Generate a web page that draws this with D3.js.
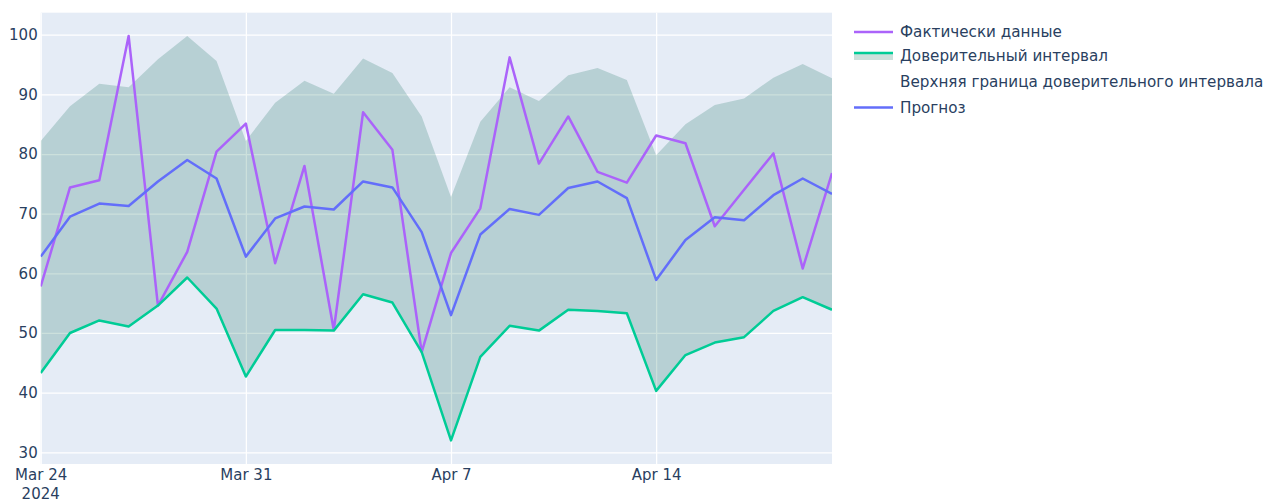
<!DOCTYPE html>
<html>
<head>
<meta charset="utf-8">
<script src="https://cdn.jsdelivr.net/npm/d3@7"></script>
<style>
  body { margin: 0; background: #fff; }
  svg { display: block; font-family: "DejaVu Sans", Verdana, sans-serif; }
</style>
</head>
<body>
<svg id="chart" width="1266" height="502"></svg>
<script>
// values, one per day from Mar 24 2024
let startDate = "2024-03-24"
let actual = [57.8, 74.4, 75.6, 99.8, 54.6, 63.6, 80.4, 85.1, 61.7, 78.0, 50.5, 87.0, 80.7, 46.8,
              63.4, 70.9, 96.2, 78.4, 86.3, 77.0, 75.2, 83.1, 81.8, 67.9, 74.0, 80.1, 60.8, 76.8]
let forecast = [62.8, 69.5, 71.7, 71.3, 75.4, 79.0, 75.9, 62.8, 69.2, 71.2, 70.7, 75.4, 74.4, 66.9,
                53.0, 66.5, 70.8, 69.8, 74.3, 75.4, 72.6, 58.9, 65.6, 69.4, 68.9, 73.1, 75.9, 73.3]
let lower = [43.3, 50.0, 52.1, 51.1, 54.6, 59.3, 54.1, 42.7, 50.5, 50.5, 50.4, 56.5, 55.1, 46.8,
             32.0, 46.0, 51.2, 50.4, 53.9, 53.7, 53.3, 40.3, 46.3, 48.4, 49.3, 53.7, 56.0, 53.9]
let upper = [82.2, 88.0, 91.8, 91.2, 95.9, 99.8, 95.6, 82.2, 88.6, 92.3, 90.1, 96.0, 93.6, 86.3,
             72.8, 85.4, 91.2, 88.9, 93.2, 94.4, 92.4, 79.8, 85.0, 88.2, 89.3, 92.8, 95.1, 92.7]
let yTicks = [30, 40, 50, 60, 70, 80, 90, 100]
let xTicks = ["2024-03-24", "2024-03-31", "2024-04-07", "2024-04-14"]
let legendNames = ["Фактически данные", "Доверительный интервал", "Верхняя граница доверительного интервала", "Прогноз"]

let parse = d3.timeParse("%Y-%m-%d")
let t0 = parse(startDate)
let dates = actual.map((v, i) => d3.timeDay.offset(t0, i))

let svg = d3.select("#chart")
let plotLeft = 40.7, plotRight = 832, plotTop = 12.7, plotBottom = 464

let x = d3.scaleTime().domain([dates[0], dates[dates.length - 1]]).range([plotLeft, plotRight])
let y = d3.scaleLinear().domain([28.04, 103.69]).range([plotBottom, plotTop])

svg.append("rect")
   .attr("x", plotLeft).attr("y", plotTop)
   .attr("width", plotRight - plotLeft).attr("height", plotBottom - plotTop)
   .attr("fill", "#e5ecf6")

svg.append("defs").append("clipPath").attr("id", "clip")
   .append("rect")
   .attr("x", plotLeft).attr("y", plotTop)
   .attr("width", plotRight - plotLeft).attr("height", plotBottom - plotTop)

// grid
let yGrid = svg.append("g")
  .attr("transform", "translate(" + plotLeft + ",0)")
  .call(d3.axisLeft(y).tickValues(yTicks).tickSize(-(plotRight - plotLeft)).tickFormat(""))
yGrid.select(".domain").remove()
yGrid.selectAll("line").attr("stroke", "#fff").attr("stroke-width", 1.25)

let xGrid = svg.append("g")
  .attr("transform", "translate(0," + plotBottom + ")")
  .call(d3.axisBottom(x).tickValues(xTicks.map(parse)).tickSize(-(plotBottom - plotTop)).tickFormat(""))
xGrid.select(".domain").remove()
xGrid.selectAll("line").attr("stroke", "#fff").attr("stroke-width", 1.25)

// tick labels
let yAxis = svg.append("g")
  .attr("transform", "translate(" + (plotLeft - 3) + ",0)")
  .call(d3.axisLeft(y).tickValues(yTicks).tickSize(0).tickPadding(0))
yAxis.select(".domain").remove()
yAxis.selectAll("text").attr("fill", "#2a3f5f").style("font-size", "15px")
     .attr("font-family", "DejaVu Sans, Verdana, sans-serif")

let xAxis = svg.append("g")
  .attr("transform", "translate(0," + plotBottom + ")")
  .call(d3.axisBottom(x).tickValues(xTicks.map(parse)).tickSize(0).tickPadding(5)
          .tickFormat(d3.timeFormat("%b %-d")))
xAxis.select(".domain").remove()
xAxis.selectAll("text").attr("fill", "#2a3f5f").style("font-size", "15px")
     .attr("font-family", "DejaVu Sans, Verdana, sans-serif")

svg.append("text")
   .attr("x", x(parse(xTicks[0]))).attr("y", 499)
   .attr("text-anchor", "middle")
   .attr("fill", "#2a3f5f").style("font-size", "15px")
   .text("2024")

// series
let plot = svg.append("g").attr("clip-path", "url(#clip)")

let band = d3.area()
  .x((d, i) => x(dates[i]))
  .y0((d, i) => y(lower[i]))
  .y1((d, i) => y(upper[i]))

plot.append("path")
    .datum(upper)
    .attr("d", band)
    .attr("fill", "rgba(0,100,80,0.2)")

let line = d3.line().x((d, i) => x(dates[i])).y(d => y(d))

let series = [
  {values: actual, color: "#ab63fa"},
  {values: lower, color: "#00cc96"},
  {values: forecast, color: "#636efa"}
]

series.forEach(function(s) {
  plot.append("path")
      .datum(s.values)
      .attr("d", line)
      .attr("fill", "none")
      .attr("stroke", s.color)
      .attr("stroke-width", 2.5)
      .attr("stroke-linejoin", "round")
})

// legend
let legend = svg.append("g")
let rowsY = [32, 56, 81.5, 107.5]
let legendColors = ["#ab63fa", "#00cc96", null, "#636efa"]

legendNames.forEach(function(name, i) {
  let ly = rowsY[i]
  if (i == 1) {
    legend.append("rect")
          .attr("x", 854).attr("y", ly - 3)
          .attr("width", 39).attr("height", 7)
          .attr("fill", "rgba(0,100,80,0.2)")
  }
  if (legendColors[i]) {
    legend.append("line")
          .attr("x1", 854).attr("x2", 893)
          .attr("y1", i == 1 ? ly - 3 : ly).attr("y2", i == 1 ? ly - 3 : ly)
          .attr("stroke", legendColors[i])
          .attr("stroke-width", 2.5)
  }
  legend.append("text")
        .attr("x", 900).attr("y", ly)
        .attr("dy", "0.35em")
        .attr("fill", "#2a3f5f")
        .style("font-size", "15.2px")
        .text(name)
})
</script>
</body>
</html>
